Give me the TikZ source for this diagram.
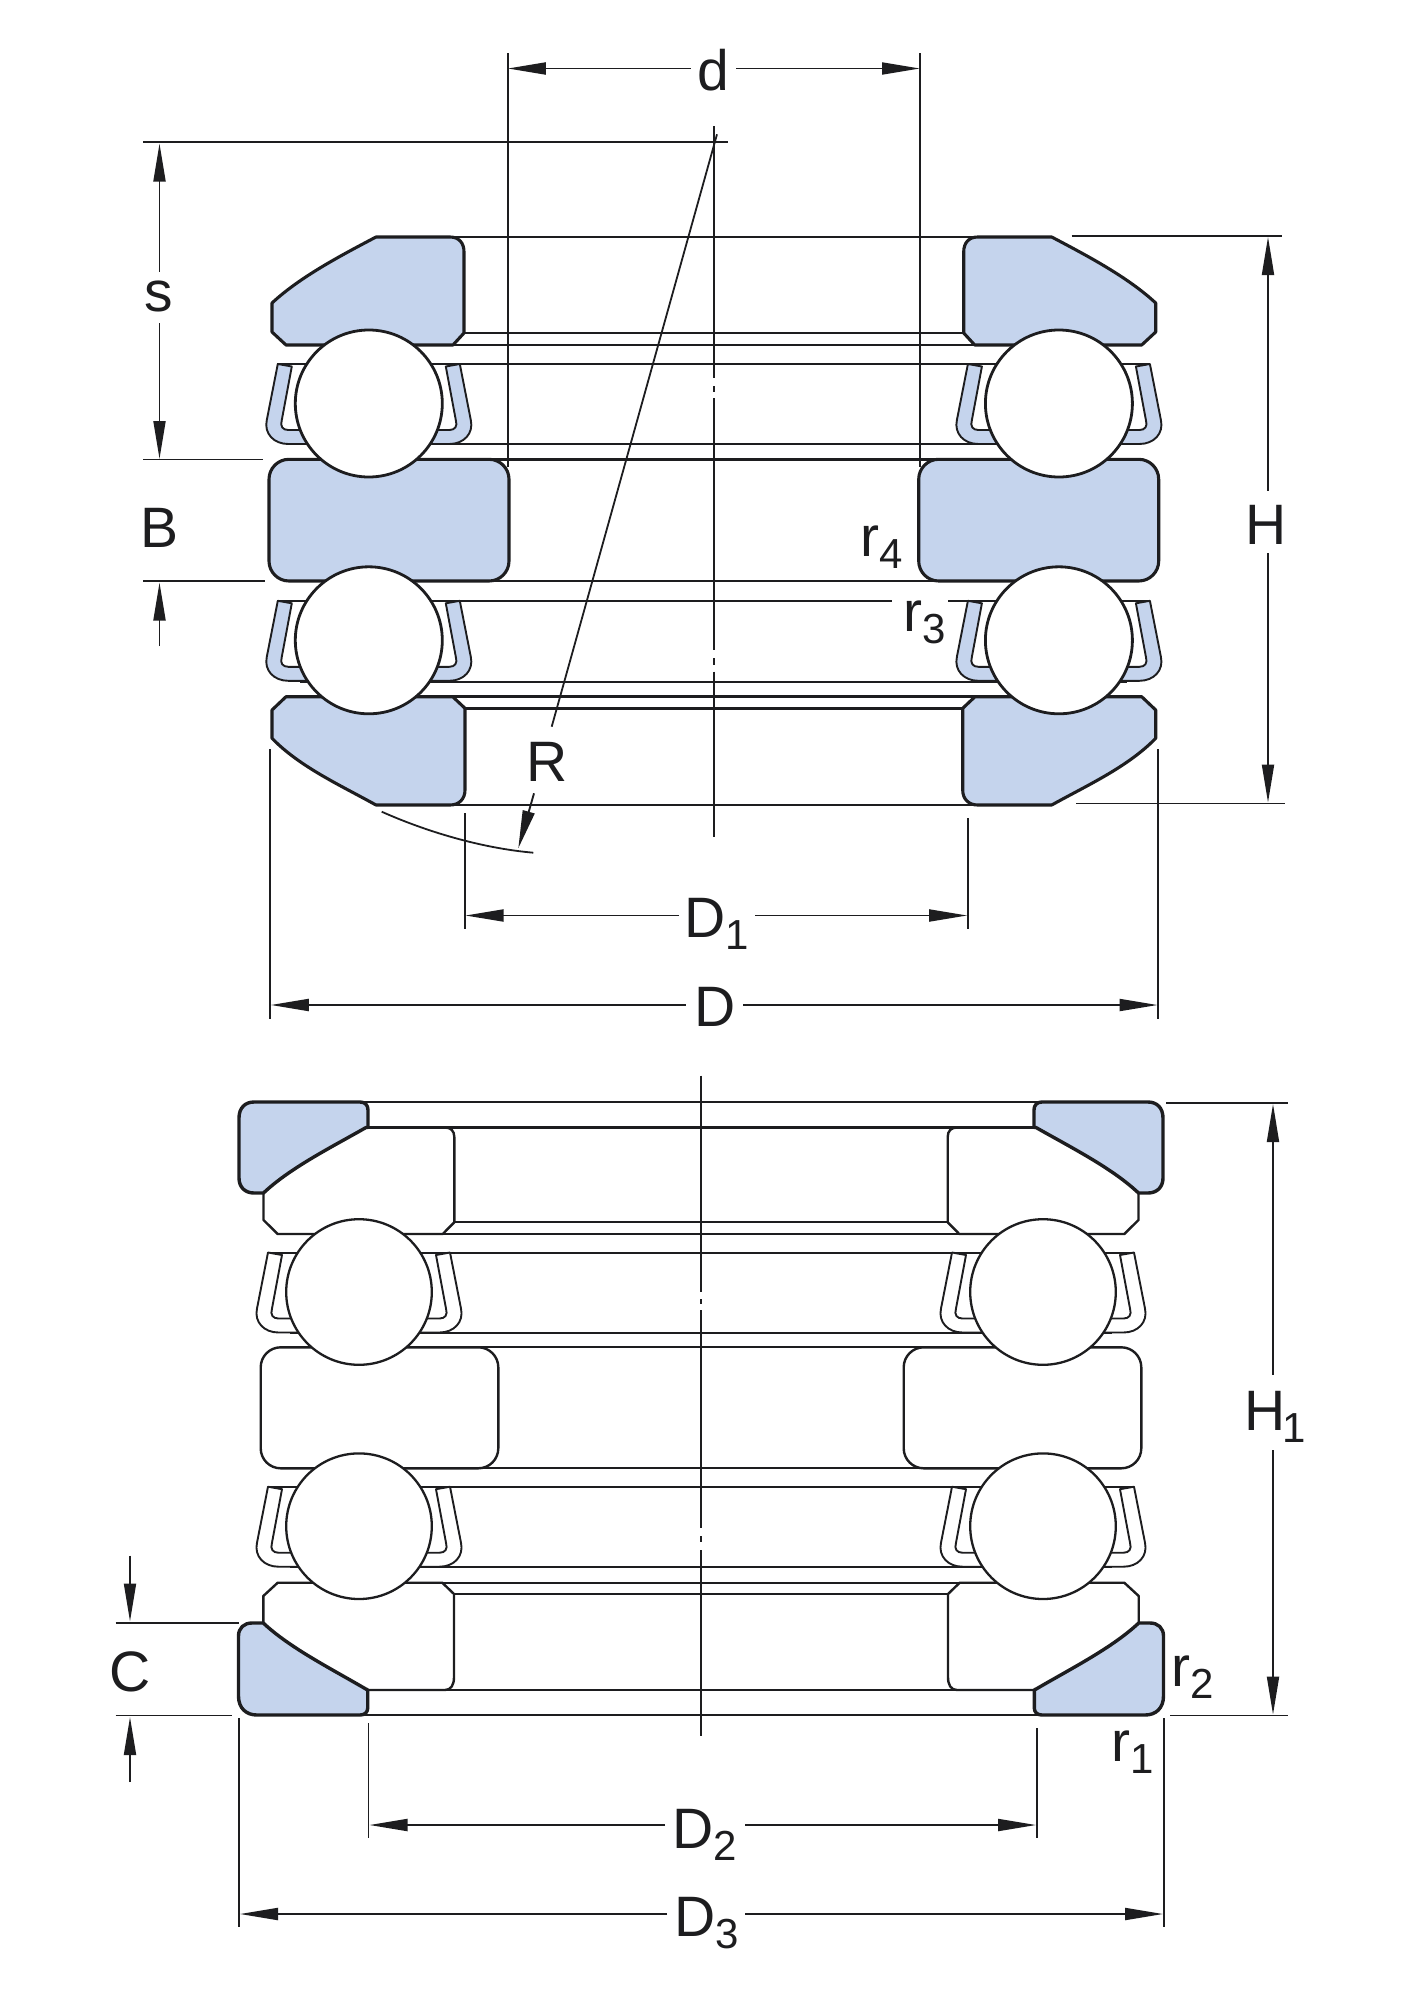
\documentclass[tikz,border=0pt]{standalone}
\usepackage{fontspec}
\setmainfont{Liberation Sans}
\usetikzlibrary{arrows.meta}
\definecolor{ink}{HTML}{1D1D1F}
\definecolor{partblue}{HTML}{C5D4ED}
\newcommand\subt[1]{\raisebox{-12pt}{\fontsize{42}{42}\selectfont #1}}
% half cage left of a ball centred on the local origin
\newcommand\halfcage[1]{%
  \path[cageline,fill=#1] (-91,-39.5) -- (-77,-37) -- (-87,16.5)
    .. controls (-89,23) and (-86,26.5) .. (-80.5,26.5) -- (-60,26.5) -- (-60,40.5)
    -- (-80.5,40.5) .. controls (-95,40.5) and (-105,30) .. (-102,16.5) -- cycle;}
\newcommand\cageball[5]{% x, y, fill, stroke style of ball, radius
  \begin{scope}[shift={(#1,#2)}]
    \halfcage{#3}
    \begin{scope}[xscale=-1]\halfcage{#3}\end{scope}
    \path[#4,fill=white] (0,0) circle[radius=#5];
  \end{scope}}
\newcommand\arrowdim[3]{\coordinate (#1a) at #2; \coordinate (#1b) at #3; \draw[dimarrow] (#1a) -- (#1b);}
\newcommand\plainline[3]{\coordinate (#1a) at #2; \coordinate (#1b) at #3; \draw[fine] (#1a) -- (#1b);}
\tikzset{
  x=1pt,y=-1pt,
  fine/.style={draw=ink,line width=1.8pt},
  dimarrow/.style={draw=ink,line width=1.9pt,-{Triangle[length=38pt,width=12pt]},shorten >=0pt},
  hline/.style={draw=ink,line width=2.9pt},
  hlinethin/.style={draw=ink,line width=2.3pt},
  ringline/.style={draw=ink,line width=3.1pt,line join=round},
  ringthin/.style={draw=ink,line width=2.4pt,line join=round},
  cageline/.style={draw=ink,line width=1.9pt,line join=round},
  ballA/.style={draw=ink,line width=2.8pt},
  ballB/.style={draw=ink,line width=2.3pt},
  lab/.style={text=ink,inner sep=0pt,anchor=base,font={\fontsize{57}{57}\selectfont}},
  labw/.style={lab,anchor=base west},
}
\begin{document}
\begin{tikzpicture}
\useasboundingbox (0,0) rectangle (1414,2000);

% ===== upper view: horizontal edges between the parts =====
\foreach \yy/\xa/\xb/\st in {237/450/978/hline, 333/464/964/hline, 345/453/975/hline,
   364/277.3/1150.4/hlinethin, 444/300/1127/hlinethin, 459.3/489/939/hline, 581/489/939/hline,
   681.7/300/1127/hlinethin, 696.7/453/975/hline, 708.3/465/963/hline, 805/450/978/hline}
  \draw[\st] (\xa,\yy) -- (\xb,\yy);
\draw[hlinethin] (277.3,601.3) -- (891.7,601.3);
\draw[hlinethin] (948.3,601.3) -- (1150.4,601.3);

% upper view: rings (left half and its mirror image)
\foreach \mirror/\mx in {1/0,-1/1427.7}{
\begin{scope}[shift={(\mx,0)},xscale=\mirror]
  \path[ringline,fill=partblue] (376,237) -- (450,237) .. controls (459,237) and (464,243) .. (464,252)
     -- (464,333) -- (453,345) -- (286,345) -- (272,332) -- (272,303)
     .. controls (300,277) and (340,256) .. (376,237) -- cycle;
  \path[ringline,fill=partblue,rounded corners=20pt] (269,459.3) rectangle (509,581);
  \path[ringline,fill=partblue] (286,696.7) -- (272,710) -- (272,738.3)
     .. controls (300,767) and (340,785) .. (376,805) -- (450,805)
     .. controls (459,805) and (465,799) .. (465,790) -- (465,708.3) -- (452.7,696.7) -- cycle;
  \cageball{368.8}{403.5}{partblue}{ballA}{73.5}
  \cageball{368.8}{640.3}{partblue}{ballA}{73.5}
\end{scope}}

% ===== lower view: horizontal edges =====
\foreach \yy/\xa/\xb/\st in {1102/360/1042/hline, 1127.5/366/1036/hline, 1222.3/454/948/hlinethin,
   1234/442/960/hlinethin, 1253.3/269/1133/hlinethin, 1333.3/290/1112/hlinethin,
   1347.3/478/924/hlinethin, 1468.3/478/924/hlinethin, 1487.3/269/1133/hlinethin,
   1567.3/290/1112/hlinethin, 1582.7/442/960/hlinethin, 1594/454/948/hlinethin,
   1690/366/1036/hline, 1715/360/1042/hline}
  \draw[\st] (\xa,\yy) -- (\xb,\yy);

\foreach \mirror/\mx in {1/0,-1/1402}{
\begin{scope}[shift={(\mx,0)},xscale=\mirror]
  % top race and washer
  \draw[ringthin] (366,1127.5) -- (445,1127.5) .. controls (451,1127.5) and (454.3,1131) .. (454.3,1137)
     -- (454.3,1222.3) -- (442.7,1234) -- (277.7,1234) -- (263.5,1220) -- (263.5,1193);
  \path[ringline,line width=3.4pt,fill=partblue] (254,1102) -- (360,1102) .. controls (365,1102) and (368,1105) .. (368,1110)
     -- (368,1127.5) -- (366,1127.5) .. controls (330,1148) and (290,1168) .. (263.5,1193) -- (254,1193)
     .. controls (245,1193) and (239,1187) .. (239,1178) -- (239,1118) .. controls (239,1108) and (245,1102) .. (254,1102) -- cycle;
  % centre ring
  \draw[ringthin,rounded corners=20pt] (260.7,1347.3) rectangle (498.3,1468.3);
  % bottom race and washer
  \draw[ringthin] (366.7,1690) -- (445,1690) .. controls (451,1690) and (454,1685) .. (454,1677)
     -- (454,1594) -- (442.3,1582.7) -- (277.7,1582.7) -- (263.3,1596) -- (263.3,1623);
  \path[ringline,line width=3.4pt,fill=partblue] (263.3,1623) .. controls (290,1648) and (330,1668) .. (366.7,1689.5)
     -- (367.7,1689.5) -- (367.7,1708) .. controls (367.7,1712) and (365,1715) .. (360,1715) -- (257,1715)
     .. controls (246,1715) and (238.5,1708) .. (238.5,1696) -- (238.5,1636) .. controls (238.5,1628) and (244,1623) .. (252,1623) -- cycle;
  \cageball{359}{1292}{white}{ballB}{72.8}
  \cageball{359}{1526.2}{white}{ballB}{72.8}
\end{scope}}

% ===== upper view: axis and extension lines =====
\foreach \nm/\ya/\yb in {axA/126/378.3, axB/398.3/650, axC/671.7/836.7}{
  \coordinate (\nm a) at (713.8,\ya); \coordinate (\nm b) at (713.8,\yb); \draw[fine] (\nm a) -- (\nm b);}
\plainline{axDotA}{(713.8,386)}{(713.8,392)}
\plainline{axDotB}{(713.8,658)}{(713.8,665)}
\plainline{dExtL}{(507.8,53.3)}{(507.8,466.7)}
\plainline{dExtR}{(920,53.3)}{(920,466.7)}
\plainline{sTop}{(143.3,142.3)}{(728,142.3)}
\plainline{bTop}{(143.3,459.5)}{(262.7,459.5)}
\plainline{bBot}{(143.3,581)}{(265,581)}
\plainline{hTop}{(1071.7,236.3)}{(1282,236.3)}
\plainline{hBot}{(1076,803.5)}{(1285,803.5)}
\plainline{d1L}{(464.7,813.3)}{(464.7,929.3)}
\plainline{d1R}{(968,818.3)}{(968,929.3)}
\plainline{dOL}{(270,749.3)}{(270,1019)}
\plainline{dOR}{(1158.3,749)}{(1158.3,1019)}

% labels, upper view
\node[lab] (dLabel) at (713.5,90) {d};
\node[lab] (sLabel) at (159,311.7) {s};
\node[lab] (bLabel) at (160,547) {B};
\node[lab] (rLabel) at (547,781) {R};
\node[labw] (hLabel) at (1245.5,544) {H};
\node[labw] (r4Label) at (860.5,556.7) {r\subt{4}};
\node[labw] (r3Label) at (903,631.7) {r\subt{3}};
\node[labw] (d1Label) at (684,937.3) {D\subt{1}};
\node[lab] (dOLabel) at (715,1026.7) {D};

% dimension arrows, upper view
\arrowdim{dA}{(690.6,68.5)}{(507.8,68.5)}
\arrowdim{dB}{(736.3,68.5)}{(920,68.5)}
\arrowdim{sA}{(159.5,271.7)}{(159.5,143.5)}
\arrowdim{sB}{(159.5,323.3)}{(159.5,459)}
\arrowdim{bA}{(159.5,646)}{(159.5,582.5)}
\arrowdim{hA}{(1268,490.6)}{(1268,237)}
\arrowdim{hB}{(1268,553)}{(1268,802.5)}
\arrowdim{d1A}{(679,915.5)}{(465.5,915.5)}
\arrowdim{d1B}{(755,915.5)}{(967.2,915.5)}
\arrowdim{dOA}{(685.8,1005)}{(270.8,1005)}
\arrowdim{dOB}{(743,1005)}{(1157.5,1005)}

% radius leader and arc
\plainline{rLead}{(717,134.3)}{(551.7,726.7)}
\arrowdim{rA}{(534,793.3)}{(518.3,848.3)}
\coordinate (arcA) at (381.7,811.7); \coordinate (arcB) at (533.3,852.7);
\draw[fine] (arcA) .. controls (425,831) and (480,848) .. (arcB);

% ===== lower view =====
\foreach \nm/\ya/\yb in {axD/1075.7/1292, axE/1310/1528, axF/1550/1736}{
  \coordinate (\nm a) at (701,\ya); \coordinate (\nm b) at (701,\yb); \draw[fine] (\nm a) -- (\nm b);}
\plainline{axDotC}{(701,1299)}{(701,1304)}
\plainline{axDotD}{(701,1536)}{(701,1542)}
\plainline{h1Top}{(1166,1103)}{(1288,1103)}
\plainline{h1Bot}{(1170,1715.5)}{(1288,1715.5)}
\plainline{cTop}{(115.7,1622.8)}{(239.3,1622.8)}
\plainline{cBot}{(115.7,1715.5)}{(231.7,1715.5)}
\plainline{d2L}{(368.5,1723.3)}{(368.5,1838.3)}
\plainline{d2R}{(1037,1728.3)}{(1037,1838.3)}
\plainline{d3L}{(239,1718)}{(239,1926.7)}
\plainline{d3R}{(1164,1718)}{(1164,1926.7)}

\node[labw] (h1Label) at (1244,1430.6) {H\kern-3pt\subt{1}};
\node[lab] (cLabel) at (130.5,1691) {C};
\node[labw] (r2Label) at (1171.5,1686.7) {r\subt{2}};
\node[labw] (r1Label) at (1111.5,1761.7) {r\subt{1}};
\node[labw] (d2Label) at (672,1848.3) {D\subt{2}};
\node[labw] (d3Label) at (674,1936.7) {D\subt{3}};

\arrowdim{h1A}{(1273,1374.6)}{(1273,1104)}
\arrowdim{h1B}{(1273,1450)}{(1273,1714.5)}
\arrowdim{cA}{(130,1555.7)}{(130,1621.5)}
\arrowdim{cB}{(130,1782)}{(130,1717)}
\arrowdim{d2A}{(665,1825)}{(369.5,1825)}
\arrowdim{d2B}{(745,1825)}{(1036,1825)}
\arrowdim{d3A}{(667,1914)}{(240,1914)}
\arrowdim{d3B}{(745,1914)}{(1163,1914)}
\end{tikzpicture}
\end{document}
